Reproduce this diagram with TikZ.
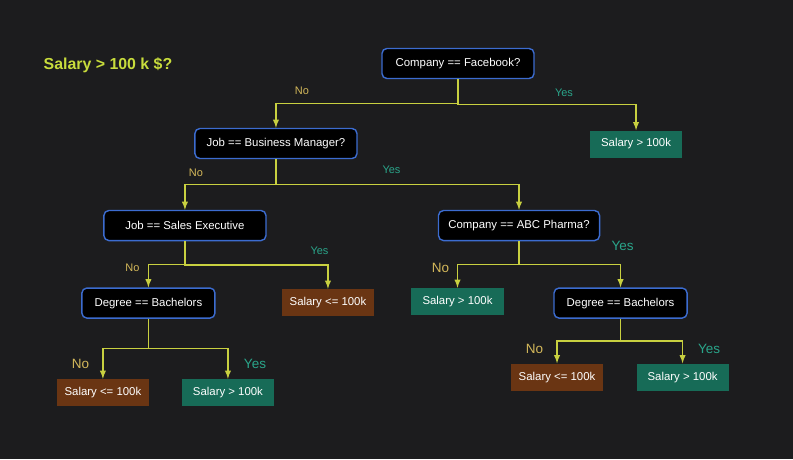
\documentclass[tikz,border=0pt]{standalone}
\usepackage{fontspec}
\setmainfont{Liberation Sans}
\usepackage{tikz}
\usetikzlibrary{arrows,positioning,calc}
\definecolor{bgcol}{HTML}{1C1C1E}
\definecolor{boxblue}{HTML}{3C6CD0}
\definecolor{leafgreen}{HTML}{176B57}
\definecolor{leafbrown}{HTML}{6A3513}
\definecolor{lineyellow}{HTML}{C8D040}
\definecolor{nocol}{HTML}{D4B85A}
\definecolor{yescol}{HTML}{2AA58A}
\definecolor{titlecol}{HTML}{C8DC3C}
\tikzstyle{question}=[rectangle,rounded corners=3.5pt,line width=1pt,draw=boxblue,
fill=black,text=white,minimum height=0.75cm,font=\fontsize{8.1}{10}\selectfont]
\tikzstyle{yesleaf}=[rectangle,fill=leafgreen,text=white,minimum width=2.3cm,
minimum height=0.675cm,font=\fontsize{8.1}{10}\selectfont]
\tikzstyle{noleaf}=[rectangle,fill=leafbrown,text=white,minimum width=2.3cm,
minimum height=0.675cm,font=\fontsize{8.1}{10}\selectfont]
\tikzstyle{branch}=[draw=lineyellow,line width=1pt,
to path={(\tikztostart) |- ($(\tikztostart)!0.5!(\tikztotarget)$) -| (\tikztotarget)}]
\tikzstyle{nolab}=[text=nocol,font=\fontsize{7.8}{9}\selectfont]
\tikzstyle{yeslab}=[text=yescol,font=\fontsize{7.8}{9}\selectfont]
\tikzstyle{bignolab}=[text=nocol,font=\fontsize{9.6}{11}\selectfont]
\tikzstyle{bigyeslab}=[text=yescol,font=\fontsize{9.6}{11}\selectfont]
\begin{document}
\begin{tikzpicture}[x=0.025cm,y=-0.025cm,on grid,>=latex]
            \fill[bgcol] (0,0) rectangle (793,459);
            \useasboundingbox (0,0) rectangle (793,459);

            \node[text=titlecol,font=\bfseries\fontsize{11.3}{13}\selectfont] (title) at (108,65) {Salary > 100 k \$?};

            % ROOT PART

            \node[question,minimum width=3.8cm] (q1) at (458,63.5) {Company == Facebook?};
            \node[yesleaf, below right=2.0125cm and 4.45cm of q1] (l1) {Salary > 100k};
            \node[question,minimum width=4.05cm, below left=2cm and 4.55cm of q1] (q2) {Job == Business Manager?};

            \path[-latex] (q1.south) edge[branch] (q2.north);
            \path[-latex] (q1.south) edge[branch] (l1.north);

            % SECOND LEVEL

            \node[question,minimum width=4.05cm, below left=2.05cm and 2.275cm of q2] (q3) {Job == Sales Executive};
            \node[question,minimum width=4.025cm, below right=2.05cm and 6.075cm of q2] (q4) {Company == ABC Pharma?};

            \path[-latex] (q2.south) edge[branch] (q3.north);
            \path[-latex] (q2.south) edge[branch] (q4.north);

            % THIRD LEVEL

            \node[question,minimum width=3.325cm, below left=1.9375cm and 0.9125cm of q3] (q5) {Degree == Bachelors};
            \node[noleaf, below right=1.925cm and 3.575cm of q3] (l2) {Salary <= 100k};
            \node[yesleaf, below left=1.9cm and 1.5375cm of q4] (l3) {Salary > 100k};
            \node[question,minimum width=3.325cm, below right=1.9375cm and 2.5375cm of q4] (q6) {Degree == Bachelors};

            \path[-latex] (q3.south) edge[branch] (q5.north);
            \path[-latex] (q3.south) edge[branch] (l2.north);
            \path[-latex] (q4.south) edge[branch] (l3.north);
            \path[-latex] (q4.south) edge[branch] (q6.north);

            % LEAVES

            \node[noleaf, below left=2.2375cm and 1.1375cm of q5] (l4) {Salary <= 100k};
            \node[yesleaf, below right=2.2375cm and 1.9875cm of q5] (l5) {Salary > 100k};
            \node[noleaf, below left=1.85cm and 1.5875cm of q6] (l6) {Salary <= 100k};
            \node[yesleaf, below right=1.85cm and 1.55cm of q6] (l7) {Salary > 100k};

            \path[-latex] (q5.south) edge[branch] (l4.north);
            \path[-latex] (q5.south) edge[branch] (l5.north);
            \path[-latex] (q6.south) edge[branch] (l6.north);
            \path[-latex] (q6.south) edge[branch] (l7.north);

            % Yes / No labels

            \node[nolab] (n1) at (302,90.5) {No};
            \node[yeslab] (y1) at (564,92.5) {Yes};
            \node[nolab] (n2) at (196,172.5) {No};
            \node[yeslab] (y2) at (391.5,170) {Yes};
            \node[nolab] (n3) at (132.5,268) {No};
            \node[yeslab] (y3) at (319.5,251) {Yes};
            \node[bignolab] (n4) at (440.5,268) {No};
            \node[bigyeslab] (y4) at (622.5,245.5) {Yes};
            \node[bignolab] (n5) at (80.5,364) {No};
            \node[bigyeslab] (y5) at (255,364) {Yes};
            \node[bignolab] (n6) at (534.5,348.5) {No};
            \node[bigyeslab] (y6) at (709,349) {Yes};

\end{tikzpicture}
\end{document}
